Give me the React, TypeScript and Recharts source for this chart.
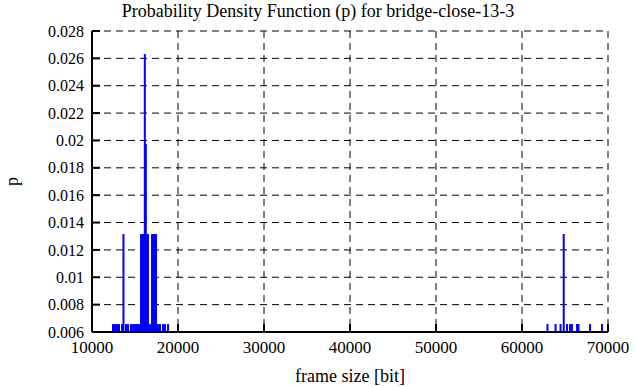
import React from 'react';
import { BarChart, Bar, XAxis, YAxis, CartesianGrid, Label } from 'recharts';

// frame sizes [bit] and probability of each size
const frameSizes = [
  12440, 12670, 12910, 13140, 13490, 13660, 13950, 14190,
  14530, 14770, 15000, 15230, 15470,
  15700, 15930, 16160, 16400, 16510,
  16140, 16260,
  16740, 16980, 17210, 17440,
  17670, 17910, 18260, 18490, 18840,
  62960, 63900, 64480, 64850, 65230, 65580, 65810, 66400, 66570, 67910, 69300,
];
const probs = [
  0.00658, 0.00658, 0.00658, 0.00658, 0.00658, 0.01316, 0.00658, 0.00658,
  0.00658, 0.00658, 0.00658, 0.00658, 0.00658,
  0.01316, 0.01316, 0.01316, 0.01316, 0.01316,
  0.02632, 0.01974,
  0.00658, 0.01316, 0.01316, 0.01316,
  0.00658, 0.00658, 0.00658, 0.00658, 0.00658,
  0.00658, 0.00658, 0.00658, 0.01316, 0.00658, 0.00658, 0.00658, 0.00658, 0.00658, 0.00658, 0.00658,
];

const xTicks = [10000, 20000, 30000, 40000, 50000, 60000, 70000];
const yTicks = [0.006, 0.008, 0.01, 0.012, 0.014, 0.016, 0.018, 0.02, 0.022, 0.024, 0.026, 0.028];

const data = frameSizes.map((size, i) => ({ size, p: probs[i] }));

const font = 'Liberation Serif, Times New Roman, Times, DejaVu Serif, serif';
const xTickStyle = { fontFamily: font, fontSize: 17, fill: '#000' };
const yTickStyle = { fontFamily: font, fontSize: 16, fill: '#000' };
const yFmt = (v: number) => String(Number(v.toFixed(3)));

// gnuplot-like impulse: fixed 2px wide line from the baseline up
const Impulse = (props: any) => {
  const { x, y, width, height } = props;
  if (height == null || height <= 0) return null;
  return <rect x={x + width / 2 - 1} y={y} width={2} height={height} fill="#0000ff" />;
};

const YLabel = (props: any) => {
  const { viewBox } = props;
  const cx = 12;
  const cy = viewBox.y + viewBox.height / 2;
  return (
    <text x={cx} y={cy} transform={`rotate(-90, ${cx}, ${cy})`} textAnchor="middle" dominantBaseline="central"
      style={{ fontFamily: font, fontSize: 18, fill: '#000' }}>
      p
    </text>
  );
};

export default function App() {
  return (
    <div style={{ position: 'absolute', left: 0, top: 0, width: 636, height: 387, background: '#fff' }}>
      <div
        style={{
          position: 'absolute',
          left: 0,
          top: 0,
          width: 636,
          textAlign: 'center',
          fontFamily: font,
          fontSize: 18,
          lineHeight: '22px',
          color: '#000',
        }}
      >
        Probability Density Function (p) for bridge-close-13-3
      </div>
      <BarChart
        width={636}
        height={387}
        data={data}
        margin={{ top: 31, right: 28, left: 0, bottom: 0 }}
      >
        <CartesianGrid stroke="#000" strokeDasharray="7 5" strokeWidth={1} />
        <Bar dataKey="p" fill="#0000ff" shape={Impulse} isAnimationActive={false} />
        <XAxis
          dataKey="size"
          type="number"
          domain={[10000, 70000]}
          ticks={xTicks}
          height={55}
          tick={xTickStyle}
          tickSize={-8}
          tickMargin={17}
          stroke="#000"
          strokeWidth={2}
        >
          <Label value="frame size [bit]" position="insideBottom" offset={5} style={{ fontFamily: font, fontSize: 18, fill: '#000' }} />
        </XAxis>
        <XAxis
          xAxisId="top"
          orientation="top"
          dataKey="size"
          type="number"
          domain={[10000, 70000]}
          ticks={xTicks}
          height={0}
          tick={false}
          tickSize={-8}
          stroke="#000"
          strokeWidth={2}
        />
        <YAxis
          type="number"
          domain={[0.006, 0.028]}
          ticks={yTicks}
          width={92}
          tick={yTickStyle}
          tickFormatter={yFmt}
          tickSize={-8}
          tickMargin={16}
          stroke="#000"
          strokeWidth={2}
          allowDataOverflow
        >
          <Label content={YLabel} />
        </YAxis>
        <YAxis
          yAxisId="right"
          orientation="right"
          type="number"
          domain={[0.006, 0.028]}
          ticks={yTicks}
          width={0}
          tick={false}
          tickSize={-8}
          stroke="#000"
          strokeWidth={2}
        />
      </BarChart>
    </div>
  );
}
